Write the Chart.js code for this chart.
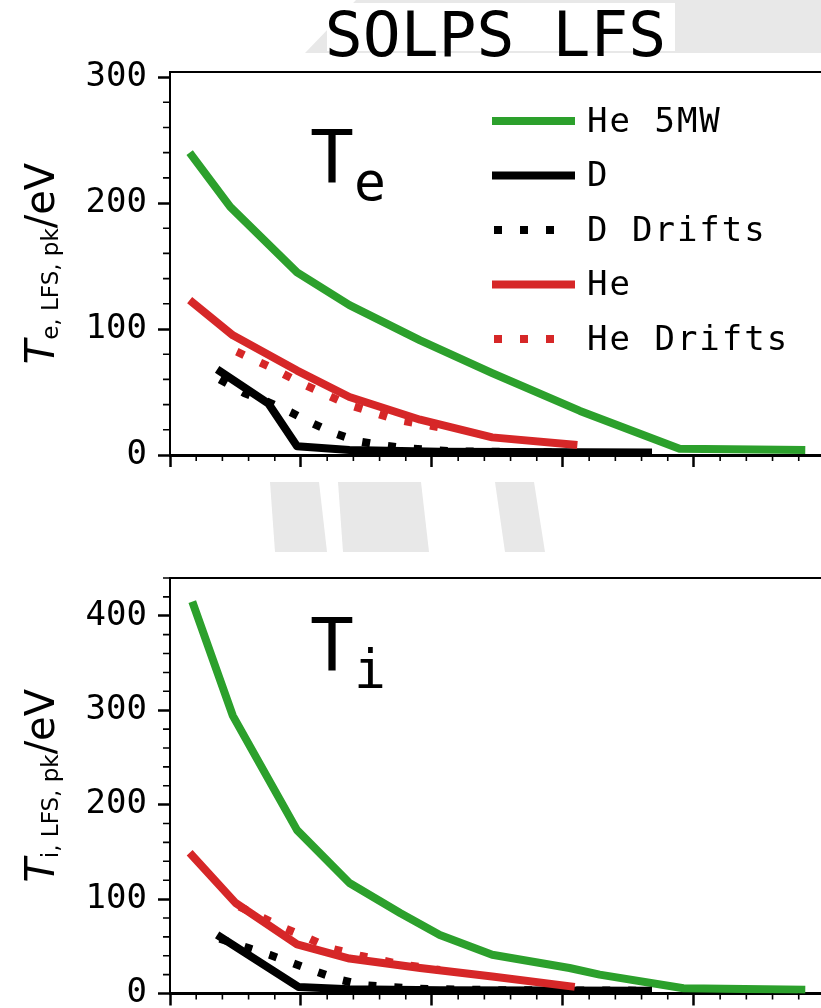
<!DOCTYPE html>
<html>
<head>
<meta charset="utf-8">
<script src="https://cdn.jsdelivr.net/npm/chart.js@4.4.1/dist/chart.umd.min.js"></script>
<style>
  html, body { margin: 0; padding: 0; background: #fff; }
  #wrap { position: relative; width: 821px; height: 1008px; overflow: hidden; }
  #wm { position: absolute; left: 0; top: 0; }
  .panel { position: absolute; left: 0; }
  #teBox { top: 0; }
  #tiBox { top: 520px; }
</style>
</head>
<body>
<div id="wrap">
  <svg id="wm" width="821" height="1008">
    <polygon points="305,53 356,0 821,0 821,53" fill="#e8e8e8"/>
    <rect x="327" y="3" width="348" height="48" fill="#fff"/>
    <polygon points="270,482 319,482 327,552 275,552" fill="#e8e8e8"/>
    <polygon points="338,482 421,482 429,552 343,552" fill="#e8e8e8"/>
    <polygon points="495,482 534,482 545,552 505,552" fill="#e8e8e8"/>
  </svg>
  <div class="panel" id="teBox"><canvas id="teChart" width="821" height="520"></canvas></div>
  <div class="panel" id="tiBox"><canvas id="tiChart" width="821" height="520"></canvas></div>
</div>
<script>
// series names, in legend order
const seriesNames = ["He 5MW", "D", "D Drifts", "He", "He Drifts"];
const seriesColors = ["#2ca02c", "#000000", "#000000", "#d62728", "#d62728"];
const seriesDotted = [false, false, true, false, true];

// x positions (axis units, major tick = 1) and values in eV
// --- T_e panel ---
const teHe5mwX = [0.15, 0.46, 0.97, 1.37, 1.91, 2.46, 3.13, 3.89, 4.85];
const teHe5mwY = [240, 197, 145, 119, 91, 65, 35, 5, 4];
const teDX = [0.36, 0.75, 0.97, 1.37, 2.06, 3.68];
const teDY = [68, 41, 7, 4, 2.5, 2];
const teDDriftsX = [0.38, 0.57, 0.75, 0.92, 1.08, 1.25, 1.43, 1.60, 1.79, 2.14, 2.98];
const teDDriftsY = [60, 49, 42, 34, 25.5, 17.5, 11, 8, 5.5, 3, 2];
const teHeX = [0.15, 0.48, 0.97, 1.37, 1.91, 2.46, 3.11];
const teHeY = [123, 95, 67, 46, 28, 14, 8];
const teHeDriftsX = [0.51, 0.76, 1.02, 1.36, 1.73, 2.06];
const teHeDriftsY = [82, 70, 56, 40, 28, 22];

// --- T_i panel ---
const tiHe5mwX = [0.17, 0.48, 0.97, 1.37, 1.76, 2.06, 2.46, 3.05, 3.28, 3.92, 4.85];
const tiHe5mwY = [415, 294, 173, 117, 85, 62, 41, 27, 20, 5.5, 4];
const tiDX = [0.36, 0.98, 1.37, 2.06, 3.68];
const tiDY = [62, 7, 4.5, 3.5, 3];
const tiDDriftsX = [0.38, 0.60, 0.76, 0.94, 1.12, 1.30, 1.47, 1.66, 1.91, 2.52, 3.66];
const tiDDriftsY = [58, 48, 41, 32, 23, 14.5, 9, 7, 5, 3.5, 3];
const tiHeX = [0.15, 0.50, 0.97, 1.37, 1.91, 2.46, 3.09];
const tiHeY = [149, 96, 52, 37, 27, 18, 7];
const tiHeDriftsX = [0.53, 0.71, 0.86, 1.05, 1.22, 1.45, 1.76, 2.06];
const tiHeDriftsY = [92, 80, 70, 59, 48, 40, 31, 25];

// axis ranges / ticks
const xMax = 4.97;
const xMajorTicks = [0, 1, 2, 3, 4];
const xMinorStep = 0.2;
const teYMax = 304;
const tiYMax = 440;
const teYTicks = [0, 100, 200, 300];
const tiYTicks = [0, 100, 200, 300, 400];
const yMinorStep = 20;

const MONO = "'DejaVu Sans Mono', monospace";
const SANS = "'DejaVu Sans', sans-serif";

const toPoints = (xs, ys) => xs.map((x, i) => ({ x: x, y: ys[i] }));

const buildDatasets = (pairs) =>
    pairs.map(([xs, ys], i) => ({
        label: seriesNames[i],
        data: toPoints(xs, ys),
        borderColor: seriesColors[i],
        backgroundColor: seriesColors[i],
        borderWidth: 8,
        borderDash: seriesDotted[i] ? [8, 18] : [],
        borderCapStyle: "butt",
        borderJoinStyle: "round",
        pointRadius: 0,
        tension: 0,
        order: pairs.length - i, // last series drawn on top, like matplotlib
    }));

const isMajor = (v, majors) => majors.some((m) => Math.abs(m - v) < 1e-6);

// frame top line, minor ticks, y label, panel tag and legend
const decorPlugin = {
    id: "decor",
    afterDraw(chart, args, opts) {
        const { ctx, chartArea: a } = chart;
        const x = chart.scales.x;
        const y = chart.scales.y;
        ctx.save();

        // top spine
        ctx.strokeStyle = "#000";
        ctx.lineWidth = 2;
        ctx.beginPath();
        ctx.moveTo(a.left, a.top);
        ctx.lineTo(a.right, a.top);
        ctx.stroke();

        // minor ticks
        ctx.lineWidth = 1.6;
        ctx.beginPath();
        const nx = Math.floor(x.max / xMinorStep + 1e-6);
        for (let k = 1; k <= nx; k++) {
            const v = k * xMinorStep;
            if (isMajor(v, xMajorTicks)) continue;
            const px = x.getPixelForValue(v);
            ctx.moveTo(px, a.bottom);
            ctx.lineTo(px, a.bottom + 6);
        }
        const ny = Math.floor(y.max / yMinorStep + 1e-6);
        for (let k = 1; k <= ny; k++) {
            const v = k * yMinorStep;
            if (isMajor(v, opts.yTicks)) continue;
            const py = y.getPixelForValue(v);
            ctx.moveTo(a.left - 7, py);
            ctx.lineTo(a.left, py);
        }
        ctx.stroke();

        // rotated y axis title: T_{sub}/eV
        ctx.fillStyle = "#000";
        ctx.textBaseline = "alphabetic";
        ctx.textAlign = "left";
        const cy = (a.top + a.bottom) / 2;
        ctx.save();
        ctx.translate(54, cy);
        ctx.rotate(-Math.PI / 2);
        const parts = [
            { t: "T", f: `italic 40px ${SANS}`, dy: 0 },
            { t: opts.sub, f: `23px ${SANS}`, dy: 4 },
            { t: "/eV", f: `40px ${SANS}`, dy: 0 },
        ];
        let total = 0;
        parts.forEach((p) => {
            ctx.font = p.f;
            p.w = ctx.measureText(p.t).width;
            total += p.w;
        });
        let cx = -total / 2;
        parts.forEach((p) => {
            ctx.font = p.f;
            ctx.fillText(p.t, cx, p.dy);
            cx += p.w;
        });
        ctx.restore();

        // panel tag T_e / T_i
        ctx.font = `73px ${MONO}`;
        const tx = a.left + opts.tagDx;
        const ty = a.top + opts.tagDy;
        ctx.fillText("T", tx, ty);
        const tw = ctx.measureText("T").width;
        ctx.font = `53px ${MONO}`;
        ctx.fillText(opts.tag, tx + tw, ty + 18);

        // legend
        if (opts.legend) {
            const lx0 = a.left + 322;
            const lx1 = a.left + 405;
            let ly = a.top + 49;
            chart.data.datasets.forEach((ds) => {
                ctx.strokeStyle = ds.borderColor;
                ctx.lineWidth = ds.borderWidth;
                ctx.lineCap = "butt";
                ctx.setLineDash(ds.borderDash);
                ctx.beginPath();
                if (ds.borderDash.length) {
                    ctx.moveTo(lx0 + 2, ly);
                    ctx.lineTo(lx1 - 8, ly);
                } else {
                    ctx.moveTo(lx0, ly);
                    ctx.lineTo(lx1, ly);
                }
                ctx.stroke();
                ctx.setLineDash([]);
                ctx.font = `34px ${MONO}`;
                ctx.letterSpacing = "2px";
                ctx.textBaseline = "middle";
                ctx.fillText(ds.label, lx1 + 12, ly + 2);
                ctx.letterSpacing = "0px";
                ly += 54.5;
            });
        }
        ctx.restore();
    },
};

const makeOptions = (cfg) => ({
    responsive: false,
    animation: false,
    events: [],
    layout: { padding: { top: cfg.padTop, left: 0, right: 0, bottom: 0 } },
    plugins: {
        legend: { display: false },
        tooltip: { enabled: false },
        title: cfg.title
            ? {
                  display: true,
                  text: cfg.title,
                  fullSize: false,
                  color: "#000",
                  font: { family: MONO, size: 63, weight: "normal", lineHeight: 1 },
                  padding: { top: 8, bottom: 1 },
              }
            : { display: false },
        decor: {
            sub: cfg.sub,
            tag: cfg.tag,
            tagDx: cfg.tagDx,
            tagDy: cfg.tagDy,
            legend: cfg.legend,
            yTicks: cfg.yTicks,
        },
    },
    scales: {
        x: {
            type: "linear",
            min: 0,
            max: xMax,
            border: { display: true, color: "#000", width: 3 },
            grid: {
                drawOnChartArea: false,
                drawTicks: true,
                tickLength: 12,
                tickWidth: 2.5,
                tickColor: "#000",
            },
            ticks: { display: false },
            afterBuildTicks: (s) => {
                s.ticks = xMajorTicks.map((v) => ({ value: v }));
            },
            afterFit: (s) => {
                s.height = cfg.xAxisHeight;
            },
        },
        y: {
            type: "linear",
            min: 0,
            max: cfg.yMax,
            border: { display: true, color: "#000", width: 2 },
            grid: {
                drawOnChartArea: false,
                drawTicks: true,
                tickLength: 12,
                tickWidth: 2.5,
                tickColor: "#000",
            },
            ticks: {
                color: "#000",
                padding: 11,
                font: { family: MONO, size: 34 },
                callback: (v) => String(v),
            },
            afterBuildTicks: (s) => {
                s.ticks = cfg.yTicks.map((v) => ({ value: v }));
            },
            afterFit: (s) => {
                s.width = 170;
            },
        },
    },
});

new Chart(document.getElementById("teChart"), {
    type: "line",
    data: {
        datasets: buildDatasets([
            [teHe5mwX, teHe5mwY],
            [teDX, teDY],
            [teDDriftsX, teDDriftsY],
            [teHeX, teHeY],
            [teHeDriftsX, teHeDriftsY],
        ]),
    },
    options: makeOptions({
        padTop: 0,
        title: "SOLPS LFS",
        yMax: teYMax,
        yTicks: teYTicks,
        xAxisHeight: 65,
        sub: "e, LFS, pk",
        tag: "e",
        tagDx: 140,
        tagDy: 110,
        legend: true,
    }),
    plugins: [decorPlugin],
});

new Chart(document.getElementById("tiChart"), {
    type: "line",
    data: {
        datasets: buildDatasets([
            [tiHe5mwX, tiHe5mwY],
            [tiDX, tiDY],
            [tiDDriftsX, tiDDriftsY],
            [tiHeX, tiHeY],
            [tiHeDriftsX, tiHeDriftsY],
        ]),
    },
    options: makeOptions({
        padTop: 58,
        title: null,
        yMax: tiYMax,
        yTicks: tiYTicks,
        xAxisHeight: 46.5,
        sub: "i, LFS, pk",
        tag: "i",
        tagDx: 140,
        tagDy: 92,
        legend: false,
    }),
    plugins: [decorPlugin],
});
</script>
</body>
</html>
